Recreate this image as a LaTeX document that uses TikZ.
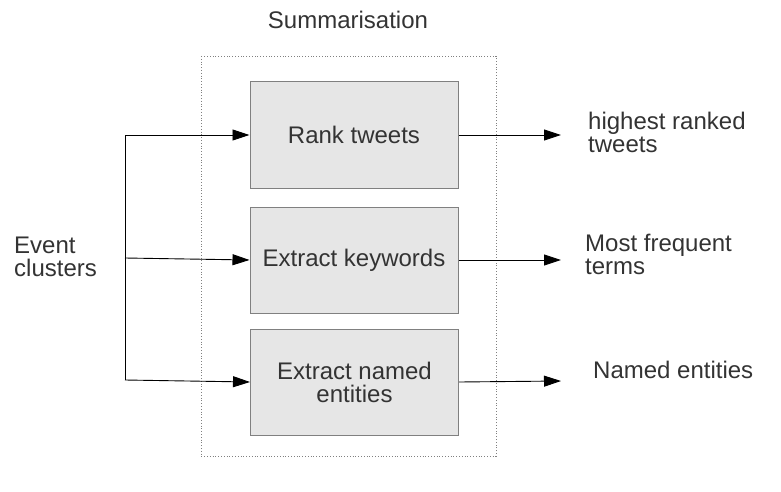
\documentclass[tikz,border=0pt]{standalone}
\usepackage{fontspec}
\setmainfont{Liberation Sans}
\usetikzlibrary{arrows.meta}
\definecolor{txt}{HTML}{333333}
\definecolor{boxfill}{HTML}{E6E6E6}
\definecolor{boxline}{HTML}{808080}
\begin{document}
\begin{tikzpicture}[x=1pt,y=-1pt,
  every node/.style={font=\fontsize{24}{26}\selectfont, text=txt},
  procbox/.style={draw=boxline, fill=boxfill, line width=1pt, minimum width=208pt, minimum height=106pt, inner sep=0pt, align=center},
  conn/.style={line width=0.9pt, -{Triangle[length=17pt,width=11pt]}},
  lbl/.style={align=left, anchor=west, inner sep=0pt}]
\useasboundingbox (0,0) rectangle (781,492);
\draw[boxline, dotted, line width=0.8pt] (201,56) rectangle (496,456);
\node[inner sep=0pt] (title) at (348,20) {Summarisation};
\node[procbox] (b1) at (354,135) {Rank tweets};
\node[procbox] (b2) at (354,260) {Extract keywords};
\node[procbox] (b3) at (354.5,382) {Extract named\\[-3pt]entities};
\node[lbl] (ev) at (14,257) {Event\\[-3pt]clusters};
\coordinate (t) at (125,135);
\coordinate (m) at (125,258);
\coordinate (bt) at (125,380);
\draw[line width=0.9pt] (t) -- (bt);
\draw[conn] (t) -- (b1.west);
\draw[conn] (m) -- (b2.west);
\draw[conn] (bt) -- (b3.west);
\node[lbl] (o1) at (588,132) {highest ranked\\[-3pt]tweets};
\node[lbl] (o2) at (585,254) {Most frequent\\[-3pt]terms};
\node[lbl] (o3) at (593,370) {Named entities};
\coordinate (e1) at (561,135);
\coordinate (e2) at (561,260);
\coordinate (e3) at (561,381);
\draw[conn] (b1.east) -- (e1);
\draw[conn] (b2.east) -- (e2);
\draw[conn] (b3.east) -- (e3);
\end{tikzpicture}
\end{document}
